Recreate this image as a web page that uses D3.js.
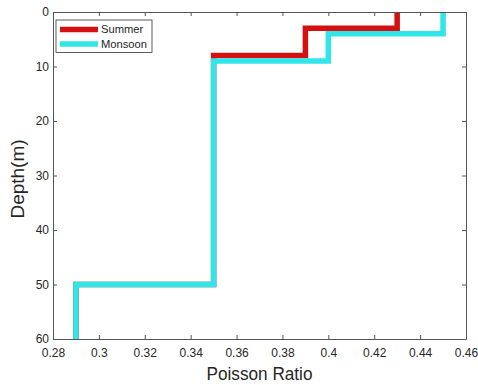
<!DOCTYPE html>
<html>
<head>
<meta charset="utf-8">
<script src="https://cdn.jsdelivr.net/npm/d3@7"></script>
<style>
  body { margin: 0; background: #fff; }
  svg { display: block; }
  text { font-family: Arial, "Liberation Sans", sans-serif; }
</style>
</head>
<body>
<svg id="chart" width="478" height="385"></svg>
<script>
// Layered Poisson ratio profiles: layer top depths (m) and ratio per layer
const seriesNames = ["Summer", "Monsoon"];
const summerTops = [0, 3, 8, 50];
const summerRatio = [0.43, 0.39, 0.35, 0.29];
const monsoonTops = [0, 4, 9, 50];
const monsoonRatio = [0.45, 0.40, 0.35, 0.29];
const maxDepth = 60;
const xTicks = [0.28, 0.30, 0.32, 0.34, 0.36, 0.38, 0.40, 0.42, 0.44, 0.46];
const yTicks = [0, 10, 20, 30, 40, 50, 60];
const colors = ["#d41010", "#30e6e8"];

const svg = d3.select("#chart");
const plotLeft = 53, plotRight = 466, plotTop = 12, plotBottom = 339;

const x = d3.scaleLinear().domain([0.28, 0.46]).range([plotLeft, plotRight]);
const y = d3.scaleLinear().domain([0, maxDepth]).range([plotTop, plotBottom]);

// step profile: each layer runs from its top depth down to the next top
function profile(tops, vals) {
  const pts = [];
  tops.forEach((t, i) => {
    const b = i + 1 < tops.length ? tops[i + 1] : maxDepth;
    pts.push([vals[i], t], [vals[i], b]);
  });
  return pts;
}

svg.append("defs").append("clipPath").attr("id", "plotClip")
  .append("rect").attr("x", plotLeft).attr("y", plotTop)
  .attr("width", plotRight - plotLeft).attr("height", plotBottom - plotTop);

const line = d3.line().x(d => x(d[0])).y(d => y(d[1]));
const data = [profile(summerTops, summerRatio), profile(monsoonTops, monsoonRatio)];

const g = svg.append("g").attr("clip-path", "url(#plotClip)");
data.forEach((d, i) => {
  g.append("path").datum(d)
    .attr("d", line)
    .attr("fill", "none")
    .attr("stroke", colors[i])
    .attr("stroke-width", 5.5)
    .attr("stroke-linejoin", "miter")
    .attr("stroke-linecap", "square");
});

// axes, ticks pointing inward, box on all sides
const axisColor = "#555";
const xB = svg.append("g").attr("transform", `translate(0,${plotBottom})`)
  .call(d3.axisBottom(x).tickValues(xTicks).tickSizeInner(-4).tickSizeOuter(0)
    .tickFormat(d => String(+d.toFixed(2))));
const xT = svg.append("g").attr("transform", `translate(0,${plotTop})`)
  .call(d3.axisTop(x).tickValues(xTicks).tickSizeInner(-4).tickSizeOuter(0).tickFormat(""));
const yL = svg.append("g").attr("transform", `translate(${plotLeft},0)`)
  .call(d3.axisLeft(y).tickValues(yTicks).tickSizeInner(-4).tickSizeOuter(0));
const yR = svg.append("g").attr("transform", `translate(${plotRight},0)`)
  .call(d3.axisRight(y).tickValues(yTicks).tickSizeInner(-4).tickSizeOuter(0).tickFormat(""));

[xB, xT, yL, yR].forEach(a => {
  a.select(".domain").attr("stroke", axisColor).attr("stroke-width", 1);
  a.selectAll(".tick line").attr("stroke", axisColor);
  a.selectAll("text").attr("fill", "#262626").style("font-size", "12px")
    .style("font-family", "Arial, 'Liberation Sans', sans-serif");
});
xB.selectAll("text").attr("y", 9).attr("dy", "0.71em");
yL.selectAll("text").attr("x", -4);

// axis titles
svg.append("text").attr("x", (plotLeft + plotRight) / 2).attr("y", 380)
  .attr("text-anchor", "middle").attr("fill", "#262626")
  .attr("textLength", 106).attr("lengthAdjust", "spacingAndGlyphs")
  .style("font-size", "17.5px").text("Poisson Ratio");
svg.append("text")
  .attr("transform", `translate(24,179) rotate(-90)`)
  .attr("text-anchor", "middle").attr("fill", "#262626")
  .style("font-size", "19px").text("Depth(m)");

// legend
const lg = svg.append("g");
lg.append("rect").attr("x", 56).attr("y", 20).attr("width", 96).attr("height", 32.5)
  .attr("fill", "#fff").attr("stroke", "#333").attr("stroke-width", 0.8);
seriesNames.forEach((n, i) => {
  const ly = 29.5 + i * 14.5;
  lg.append("line").attr("x1", 60).attr("x2", 98).attr("y1", ly).attr("y2", ly)
    .attr("stroke", colors[i]).attr("stroke-width", 5.5);
  lg.append("text").attr("x", 101).attr("y", ly).attr("dy", "0.35em")
    .attr("fill", "#262626").style("font-size", "11.2px").text(n);
});
</script>
</body>
</html>
